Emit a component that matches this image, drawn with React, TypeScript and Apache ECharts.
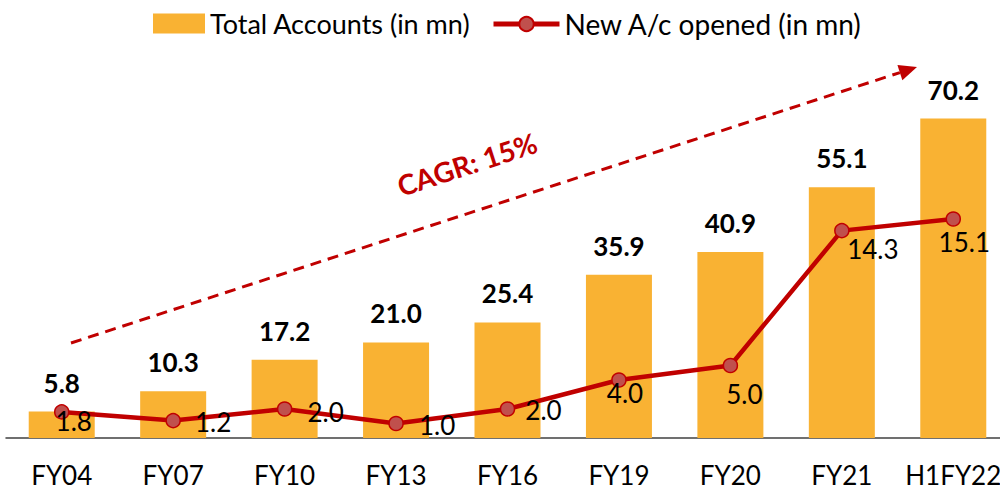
import React, { useEffect, useRef } from "react";
import * as echarts from "echarts";

const categories = ["FY04", "FY07", "FY10", "FY13", "FY16", "FY19", "FY20", "FY21", "H1FY22"];
const totalAccounts = [5.8, 10.3, 17.2, 21.0, 25.4, 35.9, 40.9, 55.1, 70.2];
const newAccounts = [1.8, 1.2, 2.0, 1.0, 2.0, 4.0, 5.0, 14.3, 15.1];
const seriesNames = ["Total Accounts (in mn)", "New A/c opened (in mn)"];
const cagrText = "CAGR: 15%";

// label placement (style), separate from data
const lineLabelOffsets = [
  [12, 9], [40, 1], [41, 3], [41, 2], [36, 1], [6, 13], [14, 29], [31, 18], [11, 23],
];

const FONT = "Lato, 'Open Sans', sans-serif";
const RED = "#C00000";

export default function App() {
  const ref = useRef<HTMLDivElement>(null);
  useEffect(() => {
    const chart = echarts.init(ref.current!, null, { renderer: "svg" });
    // arrow geometry
    const sx = 71, sy = 343, tx = 917, ty = 67;
    const dx = tx - sx, dy = ty - sy;
    const len = Math.sqrt(dx * dx + dy * dy);
    const ux = dx / len, uy = dy / len;
    const nx = -uy, ny = ux;
    const headL = 18, headW = 8;
    const bx = tx - headL * ux, by = ty - headL * uy;

    chart.setOption({
      animation: false,
      textStyle: { fontFamily: FONT },
      grid: { left: 6, width: 1003, top: 74, bottom: 54, outerBoundsMode: "none", containLabel: false },
      legend: [
        {
          data: [seriesNames[0]],
          left: 148,
          top: 5,
          icon: "rect",
          itemWidth: 52,
          itemHeight: 20,
          itemGap: 5,
          textStyle: { fontSize: 27, color: "#000", fontFamily: FONT },
        },
        {
          data: [seriesNames[1]],
          left: 486,
          top: 5,
          itemWidth: 66,
          itemHeight: 18,
          lineStyle: { width: 5 },
          textStyle: { fontSize: 28, color: "#000", fontFamily: FONT },
        },
      ],
      xAxis: {
        type: "category",
        data: categories,
        boundaryGap: true,
        axisLine: { lineStyle: { color: "#404040", width: 1.5 } },
        axisTick: { show: false },
        axisLabel: { interval: 0, fontSize: 26, color: "#000", margin: 24, fontFamily: FONT },
      },
      yAxis: [
        { type: "value", min: 0, max: 80, show: false, splitLine: { show: false } },
        { type: "value", min: 0, max: 25.1, show: false, splitLine: { show: false } },
      ],
      series: [
        {
          name: seriesNames[0],
          type: "bar",
          data: totalAccounts,
          barWidth: 66,
          itemStyle: { color: "#F9B233" },
          label: {
            show: true,
            position: "top",
            distance: 16,
            fontSize: 26,
            fontWeight: "bold",
            color: "#000",
            fontFamily: FONT,
            formatter: (p: any) => Number(p.value).toFixed(1),
          },
        },
        {
          name: seriesNames[1],
          type: "line",
          yAxisIndex: 1,
          data: newAccounts.map((v, i) => ({
            value: v,
            label: { offset: lineLabelOffsets[i] },
          })),
          symbol: "circle",
          symbolSize: 14,
          lineStyle: { color: RED, width: 4.5 },
          itemStyle: { color: "#C0504D", borderColor: RED, borderWidth: 1.5 },
          label: {
            show: true,
            position: "inside",
            fontSize: 26,
            color: "#000",
            fontFamily: FONT,
            formatter: (p: any) => Number(p.value).toFixed(1),
          },
          z: 5,
        },
      ],
      graphic: [
        {
          type: "line",
          shape: { x1: sx, y1: sy, x2: bx, y2: by },
          style: { stroke: RED, lineWidth: 3, lineDash: [11, 7] },
          z: 10,
        },
        {
          type: "polygon",
          shape: {
            points: [
              [tx, ty],
              [bx + headW * nx, by + headW * ny],
              [bx - headW * nx, by - headW * ny],
            ],
          },
          style: { fill: RED },
          z: 10,
        },
        {
          type: "text",
          x: 467,
          y: 164,
          rotation: Math.atan2(-dy, dx),
          style: {
            text: cagrText,
            fontSize: 28,
            fontWeight: "bold",
            fill: RED,
            fontFamily: FONT,
            align: "center",
            verticalAlign: "middle",
          },
          z: 10,
        },
      ],
    });
    return () => chart.dispose();
  }, []);
  return (
    <div
      ref={ref}
      style={{ position: "fixed", left: 0, top: 0, width: 1000, height: 492, background: "#fff" }}
    />
  );
}
